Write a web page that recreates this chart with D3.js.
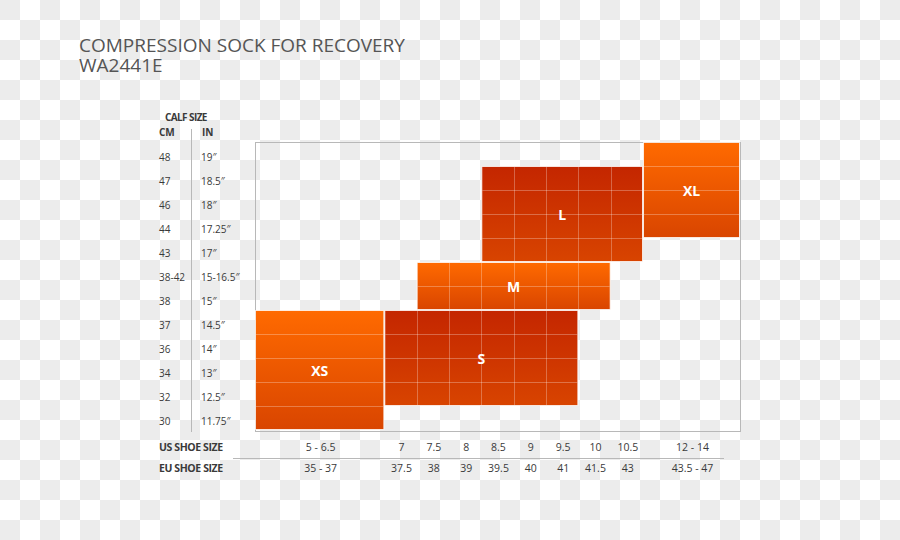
<!DOCTYPE html>
<html>
<head>
<meta charset="utf-8">
<script src="https://cdn.jsdelivr.net/npm/d3@7"></script>
<style>
  body { margin: 0; background: #fff; }
  svg { display: block; }
  text { font-family: "Open Sans", sans-serif; }
</style>
</head>
<body>
<div id="chart"></div>
<script>
// calf rows, top to bottom
var calfCm = ["48", "47", "46", "44", "43", "38-42", "38", "37", "36", "34", "32", "30"];
var calfIn = ["19\u2033", "18.5\u2033", "18\u2033", "17.25\u2033", "17\u2033", "15-16.5\u2033",
              "15\u2033", "14.5\u2033", "14\u2033", "13\u2033", "12.5\u2033", "11.75\u2033"];

// shoe columns, left to right (units = how many half sizes the column takes)
var usShoe = ["5 - 6.5", "7", "7.5", "8", "8.5", "9", "9.5", "10", "10.5", "12 - 14"];
var euShoe = ["35 - 37", "37.5", "38", "39", "39.5", "40", "41", "41.5", "43", "43.5 - 47"];
var colUnits = [4, 1, 1, 1, 1, 1, 1, 1, 1, 3];

// sock sizes
var sizeNames = ["XS", "S", "M", "L", "XL"];
var shoeFrom = ["5 - 6.5", "7", "7.5", "8.5", "12 - 14"];
var shoeTo = ["5 - 6.5", "9.5", "10", "10.5", "12 - 14"];
var calfTop = ["37", "37", "38-42", "47", "48"];
var calfBottom = ["30", "32", "38", "43", "44"];
var sizeTone = ["bright", "deep", "bright", "deep", "bright"];

var W = 900, H = 540;
var svg = d3.select("#chart").append("svg")
    .attr("width", W)
    .attr("height", H);

var defs = svg.append("defs");

// transparent-png style checkerboard behind everything
var cell = 20;
var cells = [];
d3.range(Math.ceil(H / cell)).forEach(function(r) {
    d3.range(Math.ceil(W / cell)).forEach(function(c) {
        if ((r + c) % 2 === 0) cells.push([c, r]);
    });
});
svg.append("rect").attr("width", W).attr("height", H).attr("fill", "#ffffff");
svg.append("g")
    .selectAll("rect")
    .data(cells)
    .enter()
    .append("rect")
    .attr("x", function(d) { return d[0] * cell; })
    .attr("y", function(d) { return d[1] * cell; })
    .attr("width", cell)
    .attr("height", cell)
    .attr("fill", "#ececec");

var tones = {
    bright: ["#ff6a00", "#d94500"],
    deep: ["#c42600", "#d84400"]
};
Object.keys(tones).forEach(function(k) {
    var g = defs.append("linearGradient")
        .attr("id", "grad-" + k)
        .attr("x1", 0).attr("y1", 0).attr("x2", 0).attr("y2", 1);
    g.append("stop").attr("offset", "0%").attr("stop-color", tones[k][0]);
    g.append("stop").attr("offset", "100%").attr("stop-color", tones[k][1]);
});

// title
var title = svg.append("text")
    .attr("font-size", 19)
    .attr("fill", "#555");
title.append("tspan")
    .attr("x", 79).attr("y", 52)
    .text("COMPRESSION SOCK FOR RECOVERY");
title.append("tspan")
    .attr("x", 79).attr("y", 72)
    .text("WA2441E");

// scales
var y = d3.scaleBand()
    .domain(calfCm)
    .range([142, 430]);

var colStart = [], acc = 0;
colUnits.forEach(function(u) { colStart.push(acc); acc += u; });
var x = d3.scaleLinear()
    .domain([0, d3.sum(colUnits)])
    .range([255, 740]);

function colLeft(name) { return x(colStart[usShoe.indexOf(name)]); }
function colRight(name) {
    var i = usShoe.indexOf(name);
    return x(colStart[i] + colUnits[i]);
}

// frame
svg.append("rect")
    .attr("x", x(0) + 0.5)
    .attr("y", y.range()[0] + 0.5)
    .attr("width", x.range()[1] - x.range()[0])
    .attr("height", y.range()[1] - y.range()[0] + 1)
    .attr("fill", "none")
    .attr("stroke", "#b8b8b8")
    .attr("stroke-width", 1);

// calf labels
var labelColor = "#3a3a3a";
svg.append("text")
    .attr("x", 165).attr("y", 121)
    .attr("font-size", 10).attr("font-weight", "bold")
    .attr("letter-spacing", -0.6)
    .attr("fill", labelColor)
    .text("CALF SIZE");
svg.append("text")
    .attr("x", 159).attr("y", 136)
    .attr("font-size", 10).attr("font-weight", "bold")
    .attr("fill", labelColor)
    .text("CM");
svg.append("text")
    .attr("x", 202).attr("y", 136)
    .attr("font-size", 10).attr("font-weight", "bold")
    .attr("fill", labelColor)
    .text("IN");

svg.append("line")
    .attr("x1", 191.5).attr("x2", 191.5)
    .attr("y1", 129).attr("y2", 432)
    .attr("stroke", "#b8b8b8");

svg.selectAll("text.cm")
    .data(calfCm)
    .enter()
    .append("text")
    .attr("class", "cm")
    .attr("x", 159)
    .attr("y", function(d) { return y(d) + y.bandwidth() / 2 + 6.5; })
    .attr("font-size", 10)
    .attr("fill", labelColor)
    .text(function(d) { return d; });

svg.selectAll("text.in")
    .data(calfIn)
    .enter()
    .append("text")
    .attr("class", "in")
    .attr("x", 201)
    .attr("y", function(d, i) { return y(calfCm[i]) + y.bandwidth() / 2 + 6.5; })
    .attr("font-size", 10)
    .attr("fill", labelColor)
    .text(function(d) { return d; });

// size blocks
var blocks = sizeNames.map(function(n, i) {
    return {
        name: n,
        x0: colLeft(shoeFrom[i]),
        x1: colRight(shoeTo[i]),
        y0: y(calfTop[i]),
        y1: y(calfBottom[i]) + y.bandwidth(),
        from: usShoe.indexOf(shoeFrom[i]),
        to: usShoe.indexOf(shoeTo[i]),
        rowFrom: calfCm.indexOf(calfTop[i]),
        rowTo: calfCm.indexOf(calfBottom[i]),
        tone: sizeTone[i]
    };
});

var block = svg.selectAll("g.block")
    .data(blocks)
    .enter()
    .append("g")
    .attr("class", "block");

block.append("rect")
    .attr("x", function(d) { return d.x0 + 0.5; })
    .attr("y", function(d) { return d.y0 + 0.5; })
    .attr("width", function(d) { return d.x1 - d.x0 - 1; })
    .attr("height", function(d) { return d.y1 - d.y0 - 1; })
    .attr("fill", function(d) { return "url(#grad-" + d.tone + ")"; })
    .attr("stroke", "rgba(255,255,255,0.75)")
    .attr("stroke-width", 1);

// inner grid lines
block.each(function(d) {
    var g = d3.select(this);
    for (var r = d.rowFrom + 1; r <= d.rowTo; r++) {
        var yy = Math.round(y(calfCm[r])) + 0.5;
        g.append("line")
            .attr("x1", d.x0 + 1).attr("x2", d.x1 - 1)
            .attr("y1", yy).attr("y2", yy)
            .attr("stroke", "rgba(255,255,255,0.28)");
    }
    for (var c = d.from + 1; c <= d.to; c++) {
        var xx = Math.round(x(colStart[c])) + 0.5;
        g.append("line")
            .attr("x1", xx).attr("x2", xx)
            .attr("y1", d.y0 + 1).attr("y2", d.y1 - 1)
            .attr("stroke", "rgba(255,255,255,0.28)");
    }
});

block.append("text")
    .attr("x", function(d) { return (d.x0 + d.x1) / 2; })
    .attr("y", function(d) { return (d.y0 + d.y1) / 2 + 6; })
    .attr("text-anchor", "middle")
    .attr("font-size", 14)
    .attr("font-weight", "bold")
    .attr("fill", "#fff")
    .text(function(d) { return d.name; });

// shoe size rows
svg.append("text")
    .attr("x", 159).attr("y", 451)
    .attr("font-size", 10.5).attr("font-weight", "bold")
    .attr("letter-spacing", -0.4)
    .attr("fill", labelColor)
    .text("US SHOE SIZE");
svg.append("text")
    .attr("x", 159).attr("y", 472)
    .attr("font-size", 10.5).attr("font-weight", "bold")
    .attr("letter-spacing", -0.4)
    .attr("fill", labelColor)
    .text("EU SHOE SIZE");

svg.append("line")
    .attr("x1", 233).attr("x2", 724)
    .attr("y1", 458.5).attr("y2", 458.5)
    .attr("stroke", "#b8b8b8");

svg.selectAll("text.us")
    .data(usShoe)
    .enter()
    .append("text")
    .attr("class", "us")
    .attr("x", function(d) { return (colLeft(d) + colRight(d)) / 2 + 1; })
    .attr("y", 451)
    .attr("text-anchor", "middle")
    .attr("font-size", 10.5)
    .attr("fill", labelColor)
    .text(function(d) { return d; });

svg.selectAll("text.eu")
    .data(euShoe)
    .enter()
    .append("text")
    .attr("class", "eu")
    .attr("x", function(d, i) { return (colLeft(usShoe[i]) + colRight(usShoe[i])) / 2 + 1; })
    .attr("y", 472)
    .attr("text-anchor", "middle")
    .attr("font-size", 10.5)
    .attr("fill", labelColor)
    .text(function(d) { return d; });
</script>
</body>
</html>
